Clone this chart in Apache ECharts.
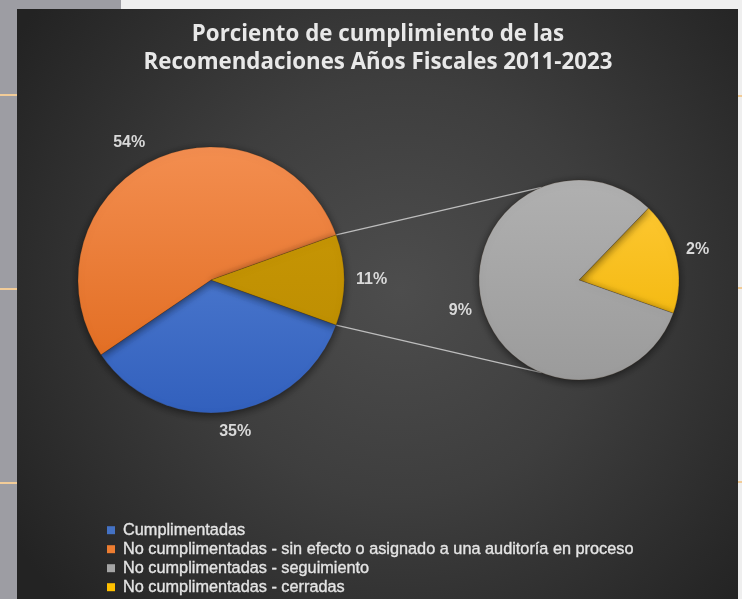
<!DOCTYPE html>
<html>
<head>
<meta charset="utf-8">
<script src="https://cdn.jsdelivr.net/npm/echarts@6/dist/echarts.min.js"></script>
<style>html,body{margin:0;padding:0;background:#efefef;}#c{width:742px;height:599px;}</style>
</head>
<body>
<div id="c"></div>
<script>
// ---- data ----
const titleLines = ['Porciento de cumplimiento de las', 'Recomendaciones Años Fiscales 2011-2023'];
const categories = [
  'Cumplimentadas',
  'No cumplimentadas - sin efecto o asignado a una auditoría en proceso',
  'No cumplimentadas - seguimiento',
  'No cumplimentadas - cerradas'
];
const mainValues = [35, 54];     // Cumplimentadas, sin efecto
const subValues = [9, 2];        // seguimiento, cerradas
const otherName = 'Otras';

// ---- layout / style ----
const mainC = [211, 280], mainR = 133;
const subC = [579, 280], subR = 100;
const subStart = 46;
const legendColors = ['#4472c4', '#ed7d31', '#a5a5a5', '#ffc000'];
const FONT = "'Liberation Sans', sans-serif";

const otherValue = subValues.reduce((a, b) => a + b, 0);
const mainAll = [mainValues[0], mainValues[1], otherValue];
const mainTotal = mainAll.reduce((a, b) => a + b, 0);
const mainStart = 360 - (otherValue / mainTotal * 360) / 2;
const subData = [subValues[1], subValues[0]]; // cerradas first (clockwise from subStart)

function grad(c, r, top, bottom) {
  return { type: 'linear', x: 0, y: c[1] - r, x2: 0, y2: c[1] + r, global: true,
    colorStops: [{ offset: 0, color: top }, { offset: 1, color: bottom }] };
}
function midAngles(vals, start) {
  const tot = vals.reduce((a, b) => a + b, 0);
  let cum = 0;
  return vals.map(v => { const m = start - (cum + v / 2) / tot * 360; cum += v; return m; });
}
function edgeAngles(vals, start) {
  const tot = vals.reduce((a, b) => a + b, 0);
  let cum = 0; const out = [start];
  vals.forEach(v => { cum += v; out.push(start - cum / tot * 360); });
  return out;
}
function pt(c, r, deg) {
  const a = deg * Math.PI / 180;
  return [c[0] + r * Math.cos(a), c[1] - r * Math.sin(a)];
}
const clamp = v => Math.max(-1, Math.min(1, v));
function outsideEnd(c, r, gap, deg, rect) {
  const a = deg * Math.PI / 180;
  const p = pt(c, r + gap, deg);
  return { x: p[0] + clamp(Math.cos(a) * 3) * rect.width / 2,
           y: p[1] - clamp(Math.sin(a) * 3) * rect.height / 2,
           align: 'center', verticalAlign: 'middle' };
}
const mainMids = midAngles(mainAll, mainStart);
const subMids = midAngles(subData, subStart);
const mainEdges = edgeAngles(mainAll, mainStart);
const p1 = pt(mainC, mainR, mainEdges[2]);
const p2 = pt(mainC, mainR, mainEdges[3]);
const q1 = pt(subC, subR, 112);
const q2 = pt(subC, subR, 248);

const labelStyle = { show: true, color: '#d9d9d9', fontSize: 16, fontWeight: 'bold', fontFamily: FONT,
  formatter: p => p.value + '%' };
const shadow = { shadowBlur: 8, shadowColor: 'rgba(0,0,0,0.55)', shadowOffsetY: 2, borderColor: 'rgba(60,40,20,0.35)', borderWidth: 0.6 };

const chart = echarts.init(document.getElementById('c'), null, { renderer: 'canvas' });
chart.setOption({
  backgroundColor: '#efefef',
  animation: false,
  graphic: [
    { type: 'rect', shape: { x: 0, y: 0, width: 121, height: 9 }, style: { fill: '#9d9da3' }, z: -10 },
    { type: 'rect', shape: { x: 0, y: 0, width: 17, height: 599 }, style: { fill: '#9d9da3' }, z: -10 },
    { type: 'rect', shape: { x: 0, y: 94, width: 17, height: 2 }, style: { fill: '#f2cc98' }, z: -9 },
    { type: 'rect', shape: { x: 0, y: 288, width: 17, height: 2 }, style: { fill: '#f2cc98' }, z: -9 },
    { type: 'rect', shape: { x: 0, y: 482, width: 17, height: 2 }, style: { fill: '#f2cc98' }, z: -9 },
    { type: 'rect', shape: { x: 738, y: 95, width: 4, height: 2 }, style: { fill: '#f2cc98' }, z: -9 },
    { type: 'rect', shape: { x: 738, y: 287, width: 4, height: 2 }, style: { fill: '#f2cc98' }, z: -9 },
    { type: 'rect', shape: { x: 738, y: 481, width: 4, height: 2 }, style: { fill: '#f2cc98' }, z: -9 },
    { type: 'rect', shape: { x: 17, y: 9, width: 721, height: 590 }, z: -8,
      style: { fill: { type: 'radial', x: 400, y: 290, r: 460, global: true,
        colorStops: [{ offset: 0, color: '#4d4d4d' }, { offset: 0.45, color: '#3e3e3e' }, { offset: 1, color: '#232323' }] } } },
    { type: 'polyline', shape: { points: [p1, q1] }, style: { stroke: '#bdbdbd', lineWidth: 1.3 }, z: 1 },
    { type: 'polyline', shape: { points: [p2, q2] }, style: { stroke: '#bdbdbd', lineWidth: 1.3 }, z: 1 }
  ],
  title: {
    text: titleLines.join('\n'), left: 373, top: 16, textAlign: 'center',
    textStyle: { color: '#e8e8e8', fontSize: 22.3, fontWeight: 'bold', lineHeight: 28, fontFamily: "'Open Sans', sans-serif" }
  },
  legend: {
    orient: 'vertical', left: 107, top: 522, height: 77, padding: 0, itemWidth: 8, itemHeight: 8, itemGap: 2.6, icon: 'rect',
    selectedMode: false,
    textStyle: { color: '#e4e4e4', fontSize: 16.3, lineHeight: 16.4, fontFamily: FONT, padding: [0, 0, 0, 3],
      textBorderColor: '#e4e4e4', textBorderWidth: 0.35 },
    data: categories.map((n, i) => ({ name: n, itemStyle: { color: legendColors[i], borderWidth: 0, shadowBlur: 0 } }))
  },
  series: [
    {
      type: 'pie', center: mainC, radius: mainR, startAngle: mainStart, clockwise: true,
      avoidLabelOverlap: false, emphasis: { disabled: true },
      label: labelStyle, labelLine: { show: false },
      labelLayout: p => outsideEnd(mainC, mainR, 12, mainMids[p.dataIndex], p.labelRect),
      data: [
        { name: categories[0], value: mainAll[0], itemStyle: Object.assign({ color: grad(mainC, mainR, '#5c88d8', '#3260bd') }, shadow) },
        { name: categories[1], value: mainAll[1], itemStyle: Object.assign({ color: grad(mainC, mainR, '#f38e50', '#de6618') }, shadow) },
        { name: otherName, value: mainAll[2], itemStyle: Object.assign({ color: grad(mainC, mainR, '#cc9a06', '#b88a00') }, shadow) }
      ]
    },
    {
      type: 'pie', center: subC, radius: subR, startAngle: subStart, clockwise: true,
      avoidLabelOverlap: false, emphasis: { disabled: true },
      label: labelStyle, labelLine: { show: false },
      labelLayout: p => outsideEnd(subC, subR, 10, subMids[p.dataIndex], p.labelRect),
      data: [
        { name: categories[3], value: subData[0], itemStyle: Object.assign({ color: grad(subC, subR, '#ffca38', '#efb200') }, shadow) },
        { name: categories[2], value: subData[1], itemStyle: Object.assign({ color: grad(subC, subR, '#b0b0b0', '#9b9b9b') }, shadow) }
      ]
    }
  ]
});
</script>
</body>
</html>
